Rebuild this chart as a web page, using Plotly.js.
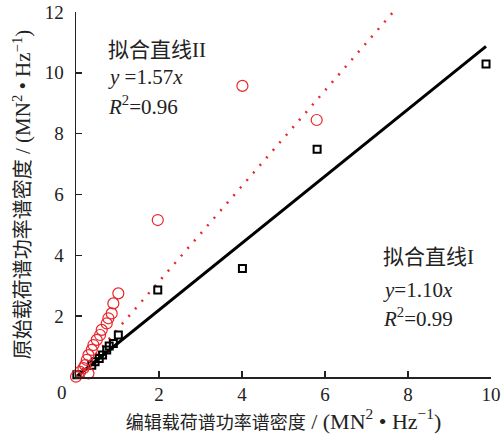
<!DOCTYPE html>
<html>
<head>
<meta charset="utf-8">
<script src="https://cdn.plot.ly/plotly-3.0.1.min.js"></script>
<style>html,body{margin:0;padding:0;background:#fff;}#chart{width:501px;height:439px;}</style>
</head>
<body>
<div id="chart"></div>
<script>
// Series I: edited load spectrum PSD (x) vs original (y), black squares
const editedI = [0.02, 0.38, 0.46, 0.56, 0.64, 0.74, 0.80, 0.90, 1.02, 1.97, 4.01, 5.81, 9.88];
const originalI = [0.07, 0.39, 0.50, 0.61, 0.72, 0.89, 1.02, 1.10, 1.38, 2.86, 3.57, 7.49, 10.29];
// Series II: red circles
const editedII = [0.00, 0.10, 0.18, 0.22, 0.26, 0.30, 0.30, 0.38, 0.42, 0.50, 0.58, 0.62, 0.74, 0.78, 0.86, 0.90, 1.02, 1.97, 4.01, 5.80];
const originalII = [0.01, 0.17, 0.29, 0.39, 0.56, 0.72, 0.12, 0.89, 1.05, 1.22, 1.38, 1.55, 1.76, 1.93, 2.09, 2.42, 2.75, 5.16, 9.57, 8.45];
// Fitted slopes
const slopeI = 1.10;
const slopeII = 1.57;
const fitX = [0, 9.88];
const xTicks = [0, 2, 4, 6, 8, 10];
const xTickText = ['', '2', '4', '6', '8', '10'];
const yTicks = [0, 2, 4, 6, 8, 10, 12];
const yTickText = ['', '2', '4', '6', '8', '10', '12'];
const originLabel = '0';

const serif = 'Liberation Serif, "Noto Sans CJK SC", serif';
const txt = '#222';
const red = '#e8262b';

const traces = [
  {x: fitX, y: fitX.map(v => v * slopeI), mode: 'lines', line: {color: '#000', width: 3}, hoverinfo: 'skip'},
  {x: fitX, y: fitX.map(v => v * slopeII), mode: 'lines', line: {color: red, width: 2.5, dash: '2px,8px'}, hoverinfo: 'skip'},
  {x: editedI, y: originalI, mode: 'markers', marker: {symbol: 'square-open', size: 7, color: '#000', line: {width: 2, color: '#000'}}, cliponaxis: false},
  {x: editedII, y: originalII, mode: 'markers', marker: {symbol: 'circle-open', size: 11, color: red, line: {width: 1.2, color: red}}, cliponaxis: false}
];

const unitX = '<span style="font-size:22px"> / (MN<sup>2</sup> • Hz<sup>−1</sup>)</span>';
const unitY = '<span style="font-size:21px"> / (MN<sup>2</sup> • Hz<sup>−1</sup>)</span>';

const layout = {
  width: 501, height: 439,
  margin: {l: 76, r: 10, t: 12, b: 62},
  paper_bgcolor: '#fff', plot_bgcolor: '#fff',
  showlegend: false,
  font: {family: serif, color: txt, size: 19},
  xaxis: {
    range: [0, 10], showgrid: false, zeroline: false,
    showline: true, linecolor: '#222', linewidth: 1.5,
    ticks: 'inside', ticklen: 6, tickwidth: 1.5, tickcolor: '#222',
    tickvals: xTicks, ticktext: xTickText, tickfont: {size: 19, family: serif, color: txt},
    title: {text: '编辑载荷谱功率谱密度' + unitX, font: {size: 18, family: serif, color: txt}, standoff: 9}
  },
  yaxis: {
    range: [0, 12], showgrid: false, zeroline: false,
    showline: true, linecolor: '#222', linewidth: 1.5,
    ticks: 'inside', ticklen: 6, tickwidth: 1.5, tickcolor: '#222',
    tickvals: yTicks, ticktext: yTickText, tickfont: {size: 19, family: serif, color: txt},
    ticklabelstandoff: 7,
    title: {text: '原始载荷谱功率谱密度' + unitY, font: {size: 20, family: serif, color: txt}, standoff: 8}
  },
  annotations: [
    {xref: 'paper', yref: 'paper', x: -0.0337, y: -0.0438, text: originLabel, showarrow: false, xanchor: 'center', yanchor: 'middle', font: {size: 19}},
    {xref: 'paper', yref: 'paper', x: 0.072, y: 0.896, text: '拟合直线II', showarrow: false, xanchor: 'left', yanchor: 'middle', font: {size: 21}},
    {xref: 'paper', yref: 'paper', x: 0.072, y: 0.822, text: '<i>y</i> =1.57<i>x</i>', showarrow: false, xanchor: 'left', yanchor: 'middle', font: {size: 21}},
    {xref: 'paper', yref: 'paper', x: 0.072, y: 0.745, text: '<i>R</i><sup>2</sup>=0.96', showarrow: false, xanchor: 'left', yanchor: 'middle', font: {size: 21}},
    {xref: 'paper', yref: 'paper', x: 0.735, y: 0.329, text: '拟合直线I', showarrow: false, xanchor: 'left', yanchor: 'middle', font: {size: 21}},
    {xref: 'paper', yref: 'paper', x: 0.735, y: 0.238, text: '<i>y</i>=1.10<i>x</i>', showarrow: false, xanchor: 'left', yanchor: 'middle', font: {size: 21}},
    {xref: 'paper', yref: 'paper', x: 0.735, y: 0.162, text: '<i>R</i><sup>2</sup>=0.99', showarrow: false, xanchor: 'left', yanchor: 'middle', font: {size: 21}}
  ]
};

Plotly.newPlot('chart', traces, layout, {displayModeBar: false, staticPlot: true});
</script>
</body>
</html>
